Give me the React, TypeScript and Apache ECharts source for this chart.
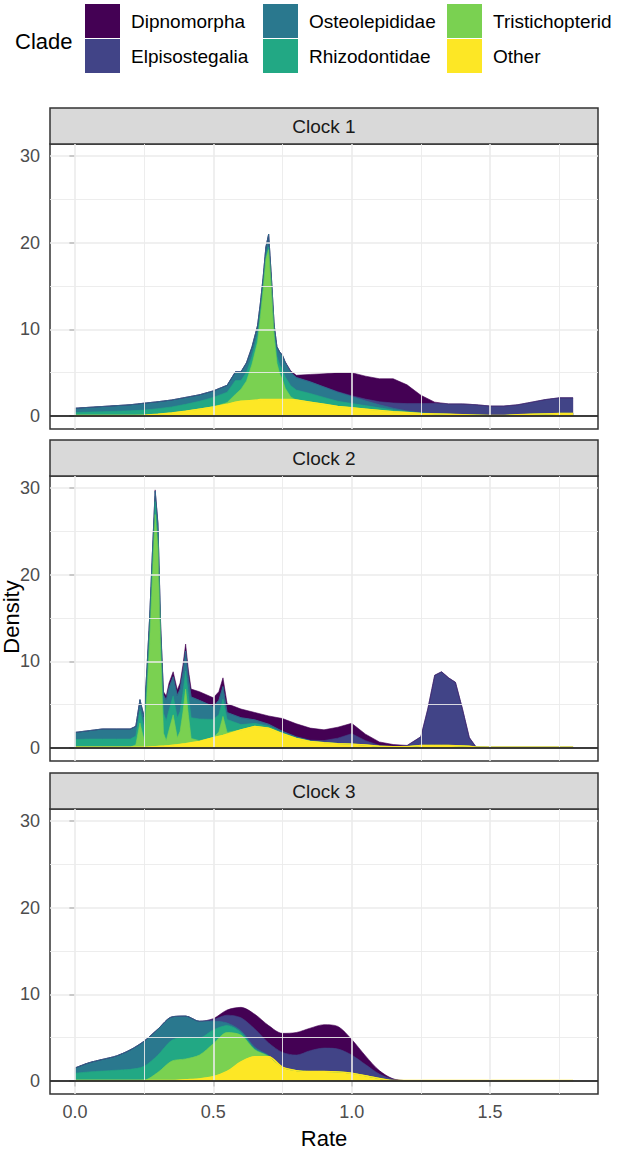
import React, { useEffect, useRef } from "react";
import * as echarts from "echarts";

// ---------- data ----------
const clades = ["Dipnomorpha", "Elpisostegalia", "Osteolepididae", "Rhizodontidae", "Tristichopterid", "Other"];
const cladeColors = ["#440154", "#414487", "#2A788E", "#22A884", "#7AD151", "#FDE725"];
const panelTitles = ["Clock 1", "Clock 2", "Clock 3"];
const xTicks = [0, 0.5, 1, 1.5];
const xMinor = [0.25, 0.75, 1.25, 1.75];
const yTicks = [0, 10, 20, 30];
const yMinor = [5, 15, 25];

const rate1 = [0, 0.05, 0.1, 0.15, 0.2, 0.25, 0.3, 0.35, 0.4, 0.45, 0.5,
  0.55, 0.58, 0.6, 0.62, 0.64, 0.66, 0.67, 0.68, 0.69, 0.7, 0.71, 0.72, 0.73, 0.74, 0.75, 0.76, 0.78, 0.8,
  0.85, 0.9, 0.95, 1.0, 1.05, 1.1, 1.15, 1.2, 1.25, 1.3, 1.35, 1.4, 1.45, 1.5, 1.55, 1.6, 1.65, 1.7, 1.75, 1.8];
const clock1Other = [0.05, 0.05, 0.05, 0.05, 0.05, 0.08, 0.2, 0.35, 0.55, 0.8, 1.05,
  1.35, 1.6, 1.7, 1.75, 1.8, 1.85, 1.9, 1.9, 1.9, 1.9, 1.9, 1.9, 1.9, 1.9, 1.9, 1.9, 1.9, 1.85,
  1.6, 1.35, 1.1, 0.95, 0.8, 0.65, 0.5, 0.4, 0.3, 0.25, 0.2, 0.15, 0.1, 0.05, 0.05, 0.15, 0.2, 0.25, 0.3, 0.3];
const clock1Tristichopterid = [0, 0, 0, 0, 0, 0, 0, 0, 0, 0, 0,
  0.2, 0.9, 1.4, 2.3, 4.2, 6.7, 9.5, 12.6, 16.2, 17.3, 12.8, 7.3, 4.2, 3.0, 2.3, 1.3, 0.3, 0,
  0, 0, 0, 0, 0, 0, 0, 0, 0, 0, 0, 0, 0, 0, 0, 0, 0, 0, 0, 0];
const clock1Rhizodontidae = [0.35, 0.4, 0.45, 0.5, 0.55, 0.6, 0.65, 0.7, 0.8, 0.9, 1.1,
  1.2, 1.6, 1.0, 1.0, 0.9, 0.8, 0.6, 0.5, 0.4, 0.3, 0.3, 0.4, 0.8, 1.0, 1.2, 1.3, 1.3, 1.15,
  1.0, 0.8, 0.6, 0.5, 0.4, 0.3, 0.2, 0.1, 0.05, 0.02, 0, 0, 0, 0, 0, 0, 0, 0, 0, 0];
const clock1Osteolepididae = [0.5, 0.55, 0.6, 0.65, 0.7, 0.8, 0.8, 0.8, 0.8, 0.75, 0.75,
  0.8, 1.0, 1.0, 1.1, 1.1, 1.1, 1.0, 1.0, 1.0, 1.5, 1.0, 0.9, 1.1, 1.5, 1.6, 1.7, 1.55, 1.45,
  1.35, 1.2, 1.05, 0.8, 0.55, 0.35, 0.2, 0.08, 0.03, 0, 0, 0, 0, 0, 0, 0, 0, 0, 0, 0];
const clock1Elpisostegalia = [0, 0, 0, 0, 0, 0, 0, 0, 0, 0, 0,
  0, 0, 0, 0, 0, 0, 0, 0, 0, 0, 0, 0, 0, 0, 0, 0, 0, 0,
  0, 0.02, 0.05, 0.1, 0.2, 0.35, 0.6, 0.85, 1.05, 1.2, 1.2, 1.25, 1.2, 1.1, 1.1, 1.15, 1.4, 1.65, 1.8, 1.8];
const clock1Dipnomorpha = [0, 0, 0, 0, 0, 0, 0, 0, 0, 0, 0,
  0, 0, 0, 0, 0, 0, 0, 0, 0, 0, 0, 0, 0, 0, 0, 0.05, 0.15, 0.25,
  0.85, 1.5, 2.2, 2.65, 2.65, 2.65, 2.8, 2.17, 0.97, 0.13, 0, 0, 0, 0, 0, 0, 0, 0, 0, 0];

const rate2 = [0, 0.05, 0.1, 0.15, 0.2, 0.22, 0.235, 0.25, 0.26, 0.27, 0.28, 0.29, 0.3, 0.31, 0.32, 0.33, 0.34,
  0.355, 0.37, 0.38, 0.39, 0.4, 0.41, 0.42, 0.45, 0.5, 0.52, 0.535, 0.55, 0.6, 0.65, 0.7, 0.75, 0.8, 0.85,
  0.9, 0.95, 1.0, 1.05, 1.1, 1.15, 1.2, 1.25, 1.275, 1.3, 1.325, 1.35, 1.375, 1.4, 1.425, 1.45, 1.5, 1.6, 1.7, 1.8];
const clock2Other = [0.08, 0.08, 0.08, 0.08, 0.08, 0.08, 0.08, 0.1, 0.1, 0.12, 0.14, 0.16, 0.18, 0.2, 0.22, 0.25, 0.28,
  0.33, 0.38, 0.42, 0.46, 0.5, 0.55, 0.6, 0.75, 1.2, 1.35, 1.45, 1.6, 2.1, 2.5, 2.3, 1.65, 1.1, 0.75,
  0.6, 0.5, 0.45, 0.35, 0.2, 0.15, 0.15, 0.3, 0.3, 0.3, 0.3, 0.3, 0.28, 0.25, 0.2, 0.1, 0.08, 0.08, 0.08, 0.08];
const clock2Tristichopterid = [0, 0, 0, 0, 0, 0.3, 2.8, 0.8, 6.0, 12.0, 19.5, 26.8, 23.0, 11.0, 1.5, 0.6, 1.8,
  3.5, 0.8, 1.5, 3.6, 6.3, 3.3, 0.5, 0.1, 0, 0.5, 2.2, 0.2, 0, 0, 0, 0, 0, 0,
  0, 0, 0, 0, 0, 0, 0, 0, 0, 0, 0, 0, 0, 0, 0, 0, 0, 0, 0, 0];
const clock2Rhizodontidae = [0.9, 0.95, 0.95, 0.95, 0.95, 1.0, 1.4, 1.4, 1.5, 1.5, 1.5, 1.5, 1.4, 1.4, 2.3, 2.3, 2.3,
  2.2, 2.3, 2.3, 2.2, 2.1, 2.2, 2.4, 2.5, 2.1, 2.0, 2.0, 1.5, 0.6, 0.35, 0.2, 0.12, 0.08, 0.05,
  0.03, 0.02, 0, 0, 0, 0, 0, 0, 0, 0, 0, 0, 0, 0, 0, 0, 0, 0, 0, 0];
const clock2Osteolepididae = [0.82, 0.97, 1.17, 1.17, 1.17, 1.12, 1.3, 1.3, 1.4, 1.38, 1.36, 1.2, 1.2, 1.1, 2.1, 2.4, 2.6,
  2.2, 2.6, 2.6, 2.5, 2.3, 2.1, 2.4, 2.15, 1.5, 1.65, 1.45, 0.8, 0.8, 0.4, 0.25, 0.15, 0.1, 0.05,
  0.03, 0.02, 0, 0, 0, 0, 0, 0, 0, 0, 0, 0, 0, 0, 0, 0, 0, 0, 0, 0];
const clock2Elpisostegalia = [0, 0, 0, 0, 0, 0, 0, 0, 0, 0, 0, 0, 0, 0, 0, 0, 0,
  0, 0, 0, 0, 0, 0, 0, 0, 0, 0, 0, 0, 0, 0, 0, 0, 0.02, 0.05,
  0.2, 0.6, 1.2, 0.5, 0.1, 0.05, 0.1, 1.0, 4.2, 8.1, 8.5, 7.8, 7.3, 4.3, 1.0, 0, 0, 0, 0, 0];
const clock2Dipnomorpha = [0, 0, 0, 0, 0, 0, 0, 0, 0, 0, 0, 0.14, 0.22, 0.3, 0.38, 0.45, 0.52,
  0.57, 0.62, 0.68, 0.74, 0.8, 0.85, 0.9, 1.0, 1.0, 1.0, 1.0, 1.0, 1.0, 0.85, 0.95, 1.48, 1.5, 1.4,
  1.24, 1.26, 1.2, 0.75, 0.4, 0.2, 0.05, 0, 0, 0, 0, 0, 0, 0, 0, 0, 0, 0, 0, 0];

const rate3 = [0, 0.05, 0.1, 0.15, 0.2, 0.25, 0.3, 0.35, 0.4, 0.45, 0.5, 0.55, 0.6, 0.65, 0.7, 0.75, 0.8,
  0.85, 0.9, 0.95, 1.0, 1.05, 1.1, 1.15, 1.2, 1.5, 1.8];
const clock3Other = [0.05, 0.05, 0.05, 0.05, 0.05, 0.05, 0.05, 0.05, 0.15, 0.25, 0.5, 1.1, 2.2, 2.8, 2.8, 1.6, 1.2,
  1.1, 1.1, 1.05, 0.9, 0.6, 0.3, 0.05, 0.05, 0.05, 0.05];
const clock3Tristichopterid = [0, 0, 0, 0, 0, 0.05, 0.95, 2.25, 2.4, 2.75, 3.8, 4.5, 3.1, 0.8, 0.05, 0, 0,
  0, 0, 0, 0, 0, 0, 0, 0, 0, 0];
const clock3Rhizodontidae = [0.85, 1.0, 1.1, 1.2, 1.3, 1.6, 2.0, 2.4, 2.5, 2.0, 1.6, 0.8, 0.3, 0.1, 0.05, 0, 0,
  0, 0, 0, 0, 0, 0, 0, 0, 0, 0];
const clock3Osteolepididae = [0.6, 1.05, 1.35, 1.65, 2.25, 2.9, 3.0, 2.7, 2.45, 1.9, 1.0, 0.3, 0.2, 0.2, 0.05, 0, 0,
  0, 0, 0, 0, 0, 0, 0, 0, 0, 0];
const clock3Elpisostegalia = [0, 0, 0, 0, 0, 0, 0, 0, 0, 0, 0.2, 0.9, 1.5, 2.1, 1.45, 1.7, 1.8,
  2.4, 2.7, 2.65, 2.1, 1.3, 0.5, 0.15, 0, 0, 0];
const clock3Dipnomorpha = [0, 0, 0, 0, 0, 0, 0, 0, 0, 0, 0.1, 0.6, 1.2, 1.7, 2.0, 2.2, 2.6,
  2.6, 2.7, 2.6, 1.8, 1.0, 0.4, 0.05, 0, 0, 0];

const panels = [
  { rate: rate1, smooth: false, values: [clock1Dipnomorpha, clock1Elpisostegalia, clock1Osteolepididae, clock1Rhizodontidae, clock1Tristichopterid, clock1Other] },
  { rate: rate2, smooth: false, values: [clock2Dipnomorpha, clock2Elpisostegalia, clock2Osteolepididae, clock2Rhizodontidae, clock2Tristichopterid, clock2Other] },
  { rate: rate3, smooth: true, values: [clock3Dipnomorpha, clock3Elpisostegalia, clock3Osteolepididae, clock3Rhizodontidae, clock3Tristichopterid, clock3Other] },
];

// ---------- layout ----------
const FONT = "'Liberation Sans', Arial, sans-serif";
const GRID_TOPS = [144, 476, 809];
const GRID_H = 285;
const GRID_L = 50;
const GRID_W = 548;
const STRIP_H = 36;
const X_MIN = -0.09;
const X_MAX = 1.89;
const Y_MIN = -1.5;
const Y_MAX = 31.4;
const KEY_X = [85, 263, 447];

// position = "stack": the upper edge of clade k is the sum of clade k and every clade below it
// (Other at the bottom, Dipnomorpha on top, as in ggplot's default stacking order).
function stackedTops(values: number[][]): number[][] {
  const n = values.length;
  const tops: number[][] = new Array(n);
  let running = values[n - 1].map(() => 0);
  for (let k = n - 1; k >= 0; k--) {
    running = running.map((s, i) => s + values[k][i]);
    tops[k] = running.slice();
  }
  return tops;
}

function buildOption() {
  const grids: any[] = [];
  const xAxes: any[] = [];
  const yAxes: any[] = [];
  const series: any[] = [];
  const graphics: any[] = [];

  panels.forEach((panel, p) => {
    grids.push({
      left: GRID_L, top: GRID_TOPS[p], width: GRID_W, height: GRID_H,
      show: true, backgroundColor: "#FFFFFF", borderColor: "#333333", borderWidth: 1.5,
    });
    const last = p === panels.length - 1;
    xAxes.push({
      type: "value", gridIndex: p, min: X_MIN, max: X_MAX,
      axisLine: { show: false }, splitLine: { show: false },
      axisTick: { show: last, customValues: xTicks, length: 5.5, lineStyle: { color: "#333333", width: 1.5 } },
      axisLabel: {
        show: last, customValues: xTicks, formatter: (v: number) => v.toFixed(1),
        color: "#4D4D4D", fontSize: 18, fontFamily: FONT, margin: 9,
      },
    });
    yAxes.push({
      type: "value", gridIndex: p, min: Y_MIN, max: Y_MAX,
      axisLine: { show: false }, splitLine: { show: false },
      axisTick: { show: true, customValues: yTicks, length: 5.5, lineStyle: { color: "#333333", width: 1.5 } },
      axisLabel: { show: true, customValues: yTicks, color: "#4D4D4D", fontSize: 18, fontFamily: FONT, margin: 10 },
    });

    const minorStyle = { color: "#EBEBEB", width: 0.9, type: "solid" };
    const majorStyle = { color: "#EBEBEB", width: 1.6, type: "solid" };
    series.push({
      type: "line", xAxisIndex: p, yAxisIndex: p, data: [], silent: true, z: 1,
      markLine: {
        silent: true, symbol: ["none", "none"], label: { show: false }, animation: false,
        data: [
          ...xMinor.map((v) => ({ xAxis: v, lineStyle: minorStyle })),
          ...yMinor.map((v) => ({ yAxis: v, lineStyle: minorStyle })),
          ...xTicks.map((v) => ({ xAxis: v, lineStyle: majorStyle })),
          ...yTicks.map((v) => ({ yAxis: v, lineStyle: majorStyle })),
        ],
      },
    });

    // drawn from the top layer down; each area fills to zero, so later (lower) layers overpaint
    const tops = stackedTops(panel.values);
    clades.forEach((c, k) => {
      series.push({
        type: "line", name: c, xAxisIndex: p, yAxisIndex: p,
        data: panel.rate.map((x, i) => [x, tops[k][i]]),
        symbol: "none", showSymbol: false, silent: true, z: 2,
        smooth: panel.smooth ? 0.3 : false,
        lineStyle: { width: 0.6, color: cladeColors[k] },
        itemStyle: { color: cladeColors[k] },
        areaStyle: { color: cladeColors[k], opacity: 1, origin: 0 },
      });
    });

    series.push({
      type: "line", xAxisIndex: p, yAxisIndex: p, data: [], silent: true, z: 3,
      markLine: {
        silent: true, symbol: ["none", "none"], label: { show: false }, animation: false,
        data: [{ yAxis: 0, lineStyle: { color: "#000000", width: 1.5, type: "solid" } }],
      },
    });
    const otherVals = panel.values[clades.length - 1];
    series.push({
      type: "line", name: "Other edge", xAxisIndex: p, yAxisIndex: p,
      data: panel.rate.map((x, i) => [x, otherVals[i]]),
      symbol: "none", showSymbol: false, silent: true, z: 4,
      smooth: panel.smooth ? 0.3 : false,
      lineStyle: { width: 1.4, color: cladeColors[clades.length - 1] },
    });

    // facet strip
    graphics.push({
      type: "rect", shape: { x: GRID_L, y: GRID_TOPS[p] - STRIP_H, width: GRID_W, height: STRIP_H },
      style: { fill: "#D9D9D9", stroke: "#333333", lineWidth: 1.5 },
    });
    graphics.push({
      type: "text", x: GRID_L + GRID_W / 2, y: GRID_TOPS[p] - STRIP_H / 2,
      style: {
        text: panelTitles[p], fill: "#1A1A1A", fontSize: 19, fontFamily: FONT,
        textAlign: "center", textVerticalAlign: "middle", align: "center", verticalAlign: "middle",
      },
    });
  });

  // legend
  graphics.push({
    type: "text", x: 15, y: 41,
    style: { text: "Clade", fill: "#000000", fontSize: 22, fontFamily: FONT, textAlign: "left", textVerticalAlign: "middle", align: "left", verticalAlign: "middle" },
  });
  clades.forEach((c, i) => {
    const col = Math.floor(i / 2);
    const row = i % 2;
    const ky = 4 + row * 35;
    graphics.push({
      type: "rect", shape: { x: KEY_X[col], y: ky, width: 35, height: 34 },
      style: { fill: cladeColors[i] },
    });
    graphics.push({
      type: "text", x: KEY_X[col] + 46, y: ky + 17,
      style: { text: c, fill: "#000000", fontSize: 19, fontFamily: FONT, textAlign: "left", textVerticalAlign: "middle", align: "left", verticalAlign: "middle" },
    });
  });

  // axis titles
  graphics.push({
    type: "text", x: GRID_L + GRID_W / 2, y: 1138,
    style: { text: "Rate", fill: "#000000", fontSize: 22, fontFamily: FONT, textAlign: "center", textVerticalAlign: "middle", align: "center", verticalAlign: "middle" },
  });
  graphics.push({
    type: "text", x: 11, y: 617, rotation: Math.PI / 2,
    style: { text: "Density", fill: "#000000", fontSize: 22, fontFamily: FONT, textAlign: "center", textVerticalAlign: "middle", align: "center", verticalAlign: "middle" },
  });

  return {
    animation: false,
    backgroundColor: "#FFFFFF",
    textStyle: { fontFamily: FONT },
    grid: grids,
    xAxis: xAxes,
    yAxis: yAxes,
    series,
    graphic: { elements: graphics },
  };
}

export default function App() {
  const ref = useRef<HTMLDivElement>(null);
  useEffect(() => {
    if (!ref.current) return;
    const chart = echarts.init(ref.current, null, { renderer: "svg" });
    chart.setOption(buildOption() as any);
    return () => chart.dispose();
  }, []);
  return (
    <div
      ref={ref}
      style={{ position: "absolute", left: 0, top: 0, width: 623, height: 1150, background: "#FFFFFF" }}
    />
  );
}
